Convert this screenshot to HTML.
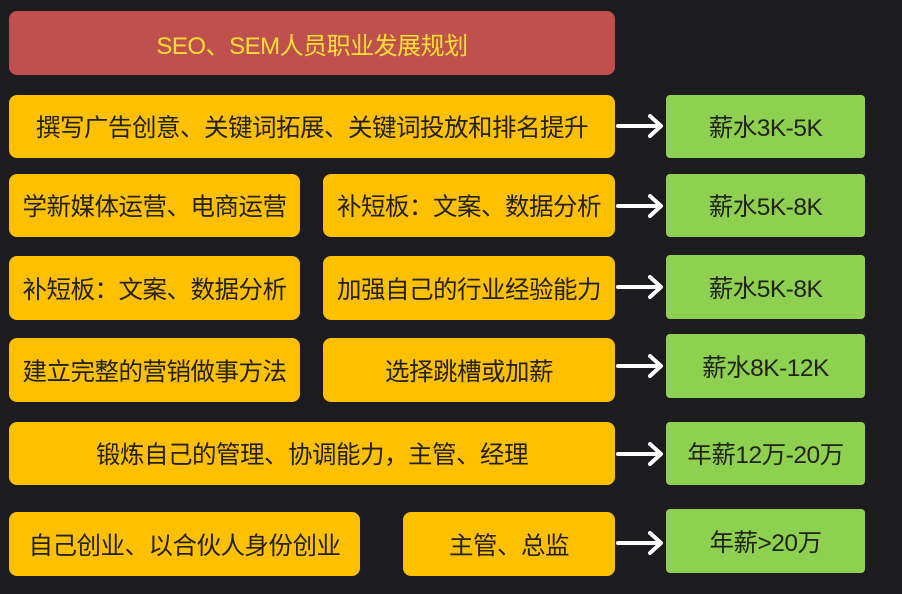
<!DOCTYPE html>
<html><head><meta charset="utf-8"><style>
body{margin:0;width:902px;height:594px;background:#1c1b1d;overflow:hidden;position:relative;font-family:"Liberation Sans","Noto Sans CJK SC",sans-serif}
.b{position:absolute;display:flex;align-items:center;justify-content:center;border-radius:8px;color:#222216;font-size:24.5px;white-space:nowrap;letter-spacing:-0.5px}
.y{background:#ffc000}
.g{background:#8ed04f;border-radius:4px}
.r{background:#c0504d;color:#ffe033;font-size:24px}
svg{position:absolute}
</style></head><body>
<div class="b r" style="left:9px;top:11px;width:606px;height:64px">SEO、SEM人员职业发展规划</div>

<div class="b y" style="left:9px;top:95px;width:606px;height:63px">撰写广告创意、关键词拓展、关键词投放和排名提升</div>
<div class="b g" style="left:666px;top:95px;width:199px;height:63px">薪水3K-5K</div>

<div class="b y" style="left:9px;top:174px;width:291px;height:63px">学新媒体运营、电商运营</div>
<div class="b y" style="left:323px;top:174px;width:292px;height:63px">补短板：文案、数据分析</div>
<div class="b g" style="left:666px;top:174px;width:199px;height:63px">薪水5K-8K</div>

<div class="b y" style="left:9px;top:256px;width:291px;height:64px">补短板：文案、数据分析</div>
<div class="b y" style="left:323px;top:256px;width:292px;height:64px">加强自己的行业经验能力</div>
<div class="b g" style="left:666px;top:255px;width:199px;height:64px">薪水5K-8K</div>

<div class="b y" style="left:9px;top:338px;width:291px;height:64px">建立完整的营销做事方法</div>
<div class="b y" style="left:323px;top:338px;width:292px;height:64px">选择跳槽或加薪</div>
<div class="b g" style="left:666px;top:334px;width:199px;height:64px">薪水8K-12K</div>

<div class="b y" style="left:9px;top:422px;width:606px;height:63px">锻炼自己的管理、协调能力，主管、经理</div>
<div class="b g" style="left:666px;top:422px;width:199px;height:63px">年薪12万-20万</div>

<div class="b y" style="left:9px;top:512px;width:351px;height:64px">自己创业、以合伙人身份创业</div>
<div class="b y" style="left:403px;top:512px;width:212px;height:64px">主管、总监</div>
<div class="b g" style="left:666px;top:509px;width:199px;height:64px">年薪&gt;20万</div>

<svg width="902" height="594" style="left:0;top:0">
<g stroke="#fff" stroke-width="4" fill="none" stroke-linecap="round" stroke-linejoin="round">
<path d="M618 126H660M650 116L661 126L650 136"/>
<path d="M618 206H660M650 196L661 206L650 216"/>
<path d="M618 287H660M650 277L661 287L650 297"/>
<path d="M618 366H660M650 356L661 366L650 376"/>
<path d="M618 454H660M650 444L661 454L650 464"/>
<path d="M618 543H660M650 533L661 543L650 553"/>
</g></svg>
</body></html>
